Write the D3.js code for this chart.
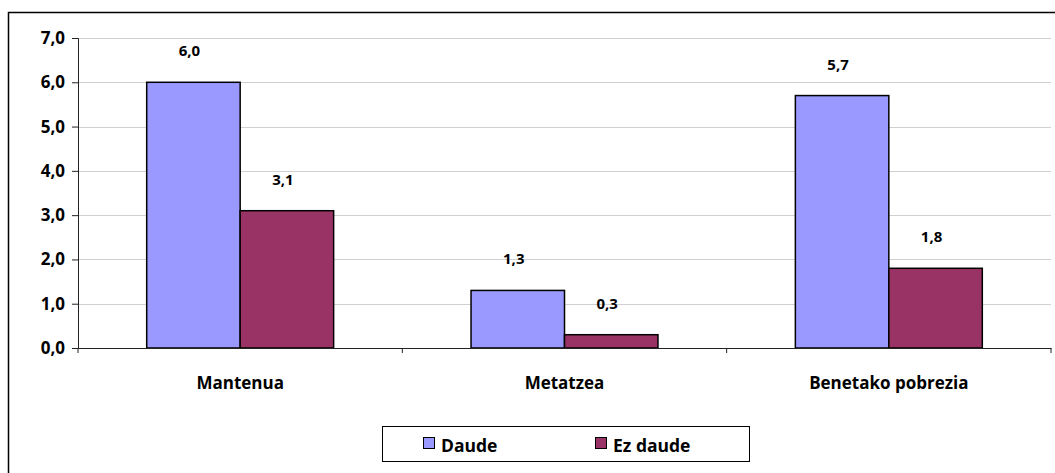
<!DOCTYPE html>
<html><head><meta charset="utf-8">
<script src="https://cdn.jsdelivr.net/npm/d3@7"></script>
<style>body{margin:0;background:#fff}svg{display:block}text{font-family:"Open Sans",sans-serif;font-weight:bold;fill:#000}</style>
</head><body><svg id="c" width="1055" height="473"></svg>
<script>
const categories = ["Mantenua", "Metatzea", "Benetako pobrezia"];
const seriesNames = ["Daude", "Ez daude"];
const daude = [6.0, 1.3, 5.7];
const ezDaude = [3.1, 0.3, 1.8];
const yTicks = [0, 1, 2, 3, 4, 5, 6, 7];
const colors = ["#9999FF", "#993366"];

const svg = d3.select("#c");
const L = 78, R = 1051, T = 38, B = 348;
const FONT = '"Open Sans",sans-serif';
svg.append("rect").attr("x", 8.5).attr("y", 12.5).attr("width", 1060).attr("height", 480)
  .attr("fill", "none").attr("stroke", "#000").attr("stroke-width", 1.5);

const x = d3.scaleBand().domain(categories).range([L, R]).paddingInner(0).paddingOuter(0);
const x1 = d3.scaleBand().domain(seriesNames).range([0, x.bandwidth()]).paddingInner(0).paddingOuter(0.735);
const y = d3.scaleLinear().domain([0, 7]).range([B, T]);
const fmt = v => v.toFixed(1).replace(".", ",");

svg.append("g").selectAll("line").data(yTicks.filter(d => d > 0)).join("line")
  .attr("x1", L).attr("x2", R).attr("y1", d => Math.round(y(d)) + 0.5).attr("y2", d => Math.round(y(d)) + 0.5)
  .attr("stroke", "#d0d0d0").attr("stroke-width", 1);

const rows = categories.map((c, i) => ({c, vals: [daude[i], ezDaude[i]]}));
const g = svg.append("g").selectAll("g").data(rows).join("g").attr("transform", d => `translate(${x(d.c)},0)`);
g.selectAll("rect").data(d => d.vals.map((v, j) => ({s: seriesNames[j], v, j}))).join("rect")
  .attr("x", d => x1(d.s)).attr("width", x1.bandwidth())
  .attr("y", d => y(d.v)).attr("height", d => B - y(d.v))
  .attr("fill", d => colors[d.j]).attr("stroke", "#000").attr("stroke-width", 1.5);
g.selectAll("text").data(d => d.vals.map((v, j) => ({s: seriesNames[j], v, j}))).join("text")
  .attr("x", d => x1(d.s) + x1.bandwidth() / 2 - 4).attr("y", d => y(d.v) - 26)
  .attr("text-anchor", "middle").attr("font-size", 15).text(d => fmt(d.v));

const yAxis = d3.axisLeft(y).tickValues(yTicks).tickFormat(fmt).tickSize(6).tickPadding(7);
const ya = svg.append("g").attr("transform", `translate(${L},0)`).call(yAxis);
ya.select(".domain").attr("stroke", "#222");
ya.selectAll(".tick line").attr("stroke", "#222");
ya.selectAll("text").attr("font-size", 17).attr("font-family", FONT).attr("font-weight", "bold").attr("fill", "#000");

const xAxis = d3.axisBottom(x).tickSize(0).tickPadding(29);
const xa = svg.append("g").attr("transform", `translate(0,${B})`).call(xAxis);
xa.select(".domain").attr("stroke", "#222");
xa.selectAll("text").attr("font-size", 17).attr("font-family", FONT).attr("font-weight", "bold").attr("fill", "#000");
svg.append("g").selectAll("line").data(d3.range(categories.length + 1)).join("line")
  .attr("x1", i => L + i * x.bandwidth()).attr("x2", i => L + i * x.bandwidth())
  .attr("y1", B).attr("y2", B + 5).attr("stroke", "#222");

const lg = svg.append("g");
lg.append("rect").attr("x", 382.5).attr("y", 426.5).attr("width", 367).attr("height", 35)
  .attr("fill", "#fff").attr("stroke", "#000").attr("stroke-width", 1);
const li = lg.selectAll("g").data(seriesNames).join("g").attr("transform", (d, i) => `translate(${423 + i * 172},0)`);
li.append("rect").attr("x", 0.5).attr("y", 437.5).attr("width", 11).attr("height", 11)
  .attr("fill", (d, i) => colors[i]).attr("stroke", "#000").attr("stroke-width", 1);
li.append("text").attr("x", 18).attr("y", 452).attr("font-size", 17.5).text(d => d);
</script></body></html>
